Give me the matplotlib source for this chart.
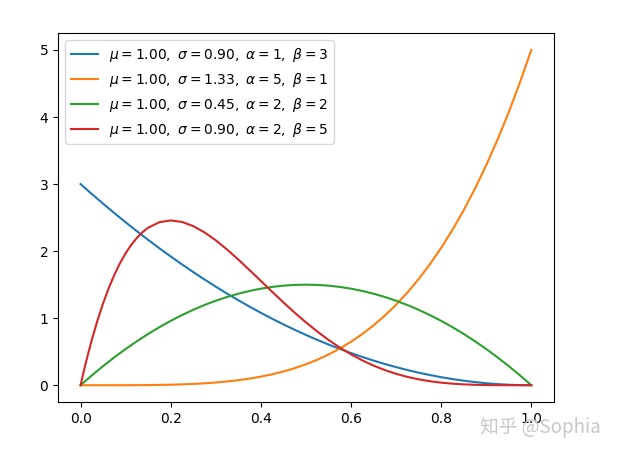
import matplotlib
matplotlib.use("Agg")
import matplotlib.pyplot as plt

# x grid (shared) and read-off values for each curve
x_vals = [0.0, 0.005, 0.01, 0.025, 0.05, 0.075, 0.1, 0.125, 0.15, 0.175, 0.2, 0.225, 0.25,
          0.275, 0.3, 0.325, 0.35, 0.375, 0.4, 0.425, 0.45, 0.475, 0.5, 0.525, 0.55, 0.575,
          0.6, 0.625, 0.65, 0.675, 0.7, 0.725, 0.75, 0.775, 0.8, 0.825, 0.85, 0.875, 0.9,
          0.925, 0.95, 0.975, 1.0]

blue_vals = [3.0, 2.970, 2.9403, 2.8519, 2.7075, 2.5669, 2.43, 2.2969, 2.1675, 2.0419, 1.92,
             1.8019, 1.6875, 1.5769, 1.47, 1.3669, 1.2675, 1.1719, 1.08, 0.9919, 0.9075,
             0.8269, 0.75, 0.6769, 0.6075, 0.5419, 0.48, 0.4219, 0.3675, 0.3169, 0.27,
             0.2269, 0.1875, 0.1519, 0.12, 0.0919, 0.0675, 0.0469, 0.03, 0.0169, 0.0075,
             0.0019, 0.0]
orange_vals = [0.0, 0.0, 0.0, 0.0, 0.00003, 0.00016, 0.0005, 0.0012, 0.00253, 0.0047, 0.008,
               0.0128, 0.0195, 0.0286, 0.0405, 0.0558, 0.075, 0.0989, 0.128, 0.1631, 0.205,
               0.2545, 0.3125, 0.3798, 0.4575, 0.5466, 0.648, 0.7629, 0.8925, 1.038, 1.2005,
               1.3814, 1.582, 1.8038, 2.048, 2.3163, 2.61, 2.9309, 3.2805, 3.6605, 4.0725,
               4.5184, 5.0]
green_vals = [0.0, 0.0299, 0.0594, 0.1463, 0.285, 0.4163, 0.54, 0.6563, 0.765, 0.8663, 0.96,
              1.0463, 1.125, 1.1963, 1.26, 1.3163, 1.365, 1.4063, 1.44, 1.4663, 1.485,
              1.4963, 1.5, 1.4963, 1.485, 1.4663, 1.44, 1.4063, 1.365, 1.3163, 1.26,
              1.1963, 1.125, 1.0463, 0.96, 0.8663, 0.765, 0.6563, 0.54, 0.4163, 0.285,
              0.1463, 0.0]

# red curve read on a finer grid near its steep rise
red_x = [0.0, 0.005, 0.01, 0.0175, 0.025, 0.0375, 0.05, 0.0625, 0.075, 0.0875, 0.1, 0.1125,
         0.125, 0.1375, 0.15, 0.175, 0.2, 0.225, 0.25, 0.275, 0.3, 0.325, 0.35, 0.375, 0.4,
         0.425, 0.45, 0.475, 0.5, 0.525, 0.55, 0.575, 0.6, 0.625, 0.65, 0.675, 0.7, 0.725,
         0.75, 0.775, 0.8, 0.825, 0.85, 0.875, 0.9, 0.925, 0.95, 0.975, 1.0]
red_vals = [0.0, 0.147, 0.2882, 0.4892, 0.6778, 0.9655, 1.2218, 1.4484, 1.6472, 1.82, 1.9683,
            2.0939, 2.1982, 2.2828, 2.349, 2.4321, 2.4576, 2.4351, 2.373, 2.2793, 2.1609,
            2.024, 1.8743, 1.7166, 1.5552, 1.3937, 1.2353, 1.0826, 0.9375, 0.8018, 0.6766,
            0.5628, 0.4608, 0.3708, 0.2926, 0.2259, 0.1701, 0.1244, 0.0879, 0.0596, 0.0384,
            0.0232, 0.0129, 0.0064, 0.0027, 0.0009, 0.0002, 0.00001, 0.0]

labels = [
    r"$\mu=1.00,\ \sigma=0.90,\ \alpha=1,\ \beta=3$",
    r"$\mu=1.00,\ \sigma=1.33,\ \alpha=5,\ \beta=1$",
    r"$\mu=1.00,\ \sigma=0.45,\ \alpha=2,\ \beta=2$",
    r"$\mu=1.00,\ \sigma=0.90,\ \alpha=2,\ \beta=5$",
]
series = [(x_vals, blue_vals), (x_vals, orange_vals), (x_vals, green_vals), (red_x, red_vals)]
colors = ["#1f77b4", "#ff7f0e", "#2ca02c", "#d62728"]

fig = plt.figure(figsize=(6.26, 4.61), dpi=100)
ax = fig.add_axes([0.0927, 0.128, 0.792, 0.800])
for (xs, ys), lab, c in zip(series, labels, colors):
    ax.plot(xs, ys, color=c, label=lab, linewidth=1.5)

ax.set_xticks([0.0, 0.2, 0.4, 0.6, 0.8, 1.0])
ax.set_yticks([0, 1, 2, 3, 4, 5])
ax.legend(loc="upper left")

fig.text(0.766, 0.06, "知乎 @Sophia", color="#c8c8c8", fontsize=13.5,
         family=["Noto Sans CJK SC", "DejaVu Sans"])

fig.savefig("out.png", dpi=100)
